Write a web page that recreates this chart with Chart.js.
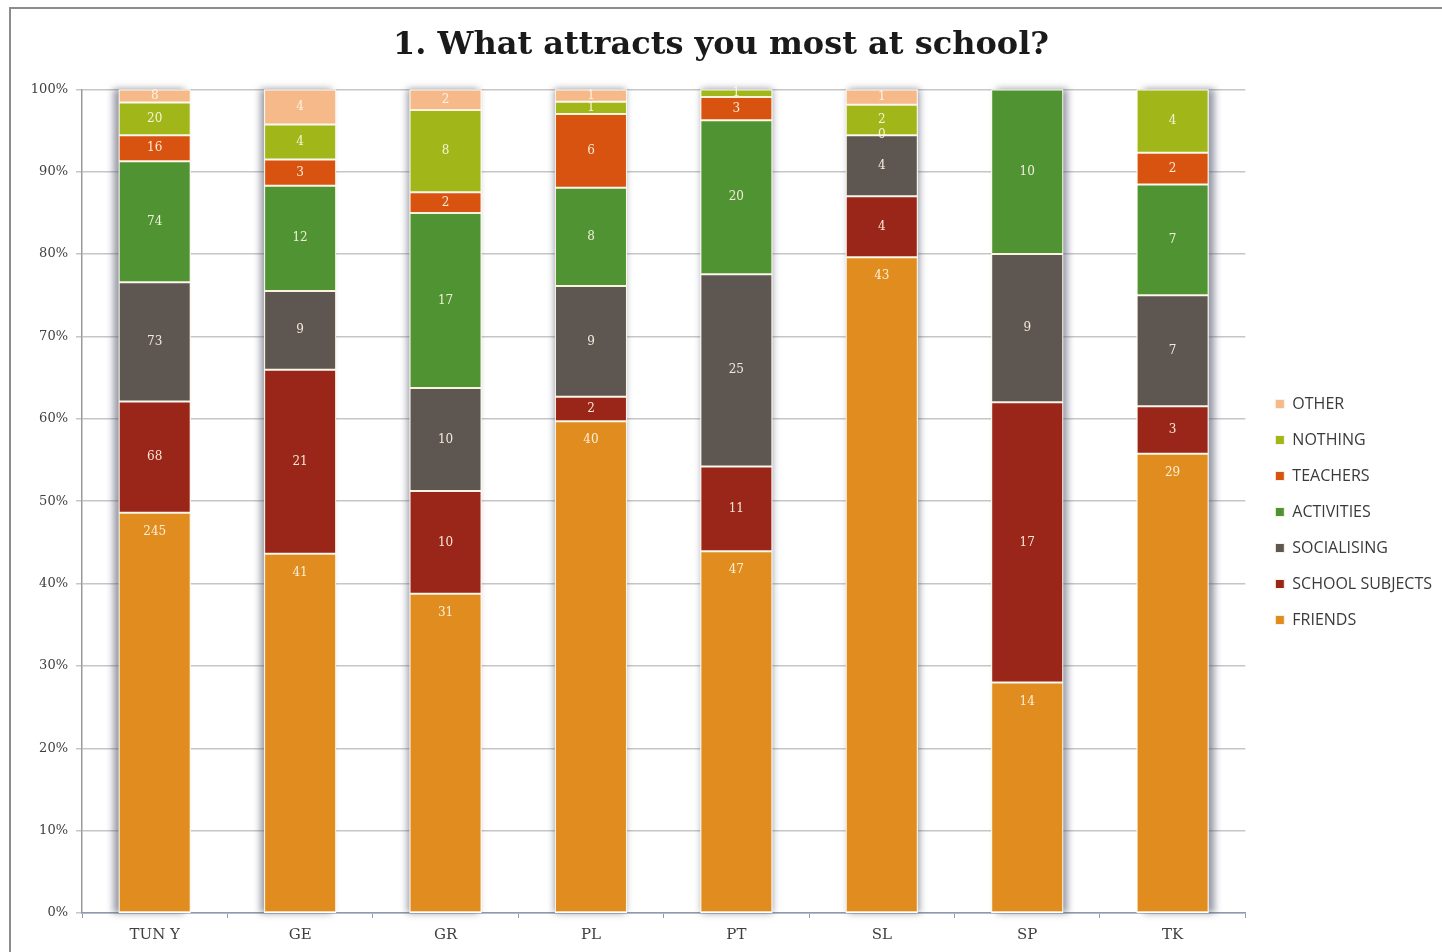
<!DOCTYPE html>
<html><head><meta charset="utf-8">
<script src="https://cdn.jsdelivr.net/npm/chart.js@4.4.1/dist/chart.umd.min.js"></script>
<style>
html,body{margin:0;padding:0;background:#fff;width:1442px;height:952px;overflow:hidden;}
#wrap{position:absolute;left:0;top:0;width:1442px;height:952px;}
#frame{position:absolute;left:9px;top:7px;width:1460px;height:970px;border:2px solid #8c8c8c;box-sizing:border-box;pointer-events:none;}
canvas{position:absolute;left:0;top:0;}
</style></head><body>
<div id="wrap"><canvas id="c" width="1442" height="952"></canvas><div id="frame"></div></div>
<script>
const chartTitle = '1. What attracts you most at school?';
const categories = ['TUN Y','GE','GR','PL','PT','SL','SP','TK'];
const friends        = [245, 41, 31, 40, 47, 43, 14, 29];
const schoolSubjects = [ 68, 21, 10,  2, 11,  4, 17,  3];
const socialising    = [ 73,  9, 10,  9, 25,  4,  9,  7];
const activities     = [ 74, 12, 17,  8, 20,  0, 10,  7];
const teachers       = [ 16,  3,  2,  6,  3, null, null, 2];
const nothing        = [ 20,  4,  8,  1,  1,  2, null, 4];
const other          = [  8,  4,  2,  1, null, 1, null, null];
const seriesNames  = ['FRIENDS','SCHOOL SUBJECTS','SOCIALISING','ACTIVITIES','TEACHERS','NOTHING','OTHER'];
const seriesCounts = [friends, schoolSubjects, socialising, activities, teachers, nothing, other];
const seriesColors = ['#E08C1E','#9A2519','#5E5650','#4F9332','#D8530F','#A0B619','#F6B98A'];
const yTickStep = 10;

const totals = categories.map((c,i)=>seriesCounts.reduce((s,arr)=>s+(arr[i]||0),0));

const datasets = seriesNames.map((name,k)=>({
  label: name,
  counts: seriesCounts[k],
  labelAnchor: k===0 ? 'end' : 'center',
  data: seriesCounts[k].map((v,i)=> v==null ? null : v/totals[i]*100),
  backgroundColor: seriesColors[k],
  borderColor: '#fbf3df',
  borderWidth: 1,
  borderSkipped: false,
  barPercentage: 0.495,
  categoryPercentage: 1
}));

const shadowPlugin = {
  id:'barShadow',
  beforeDatasetsDraw(chart){
    const ctx = chart.ctx, ys = chart.scales.y, ca = chart.chartArea;
    const meta = chart.getDatasetMeta(0);
    const cx = (ca.left+ca.right)/2, hw = (ca.right-ca.left)/2;
    meta.data.forEach(el=>{
      const w = el.width, x = el.x;
      const top = ys.getPixelForValue(100), bot = ys.getPixelForValue(0);
      const dir = (x-cx)/hw;
      ctx.save();
      ctx.shadowColor = 'rgba(80,85,105,0.6)';
      ctx.shadowBlur = 7;
      ctx.shadowOffsetX = dir*7;
      ctx.fillStyle = '#fff';
      ctx.fillRect(x-w/2, top, w, bot-top);
      ctx.restore();
    });
  }
};

const labelPlugin = {
  id:'segLabels',
  afterDatasetsDraw(chart){
    const ctx = chart.ctx;
    ctx.save();
    ctx.font = '12px "DejaVu Serif"';
    ctx.textAlign = 'center';
    ctx.textBaseline = 'middle';
    ctx.fillStyle = 'rgba(255,247,230,0.92)';
    chart.data.datasets.forEach((ds,di)=>{
      const meta = chart.getDatasetMeta(di);
      meta.data.forEach((el,i)=>{
        const v = ds.counts[i];
        if (v==null) return;
        const {x,y,base} = el.getProps(['x','y','base'], true);
        const ty = ds.labelAnchor==='end' ? y+19 : (y+base)/2;
        ctx.fillText(String(v), x, ty);
      });
    });
    ctx.restore();
  }
};

new Chart(document.getElementById('c'), {
  type:'bar',
  data:{labels:categories, datasets},
  plugins:[shadowPlugin, labelPlugin],
  options:{
    responsive:false, animation:false, devicePixelRatio:1,
    layout:{padding:0},
    plugins:{
      title:{display:true, text:chartTitle, color:'#1a1a1a',
        font:{family:'"DejaVu Serif"', size:32, weight:'bold'}, padding:{top:26,bottom:25}},
      legend:{position:'right', reverse:true, align:'center',
        title:{display:true, text:' ', padding:0, font:{size:60, lineHeight:1.2}},
        labels:{boxWidth:9, boxHeight:9, padding:20, color:'#3a3a3a',
          font:{family:'"Open Sans"', size:16}}},
      tooltip:{enabled:false}
    },
    scales:{
      x:{stacked:true,
        grid:{drawOnChartArea:false, drawTicks:true, tickLength:5, color:'#8e9ab0', offset:true},
        border:{color:'#8e9ab0', width:1.5},
        ticks:{font:{family:'"DejaVu Serif"', size:15}, color:'#404040', padding:8},
        afterFit:s=>{s.height=39;}},
      y:{stacked:true, min:0, max:100,
        ticks:{stepSize:yTickStep, callback:v=>v+'%', font:{family:'"DejaVu Serif"', size:13}, color:'#404040', padding:8},
        grid:{color:'#c6c6c6', lineWidth:1.5, tickLength:6},
        border:{color:'#9a9a9a', width:1.5},
        afterFit:s=>{s.width=82;}},
      gap:{type:'linear', position:'right', display:true,
        grid:{display:false}, ticks:{display:false}, border:{display:false},
        afterFit:s=>{s.width=10;}}
    }
  }
});
</script>
</body></html>
